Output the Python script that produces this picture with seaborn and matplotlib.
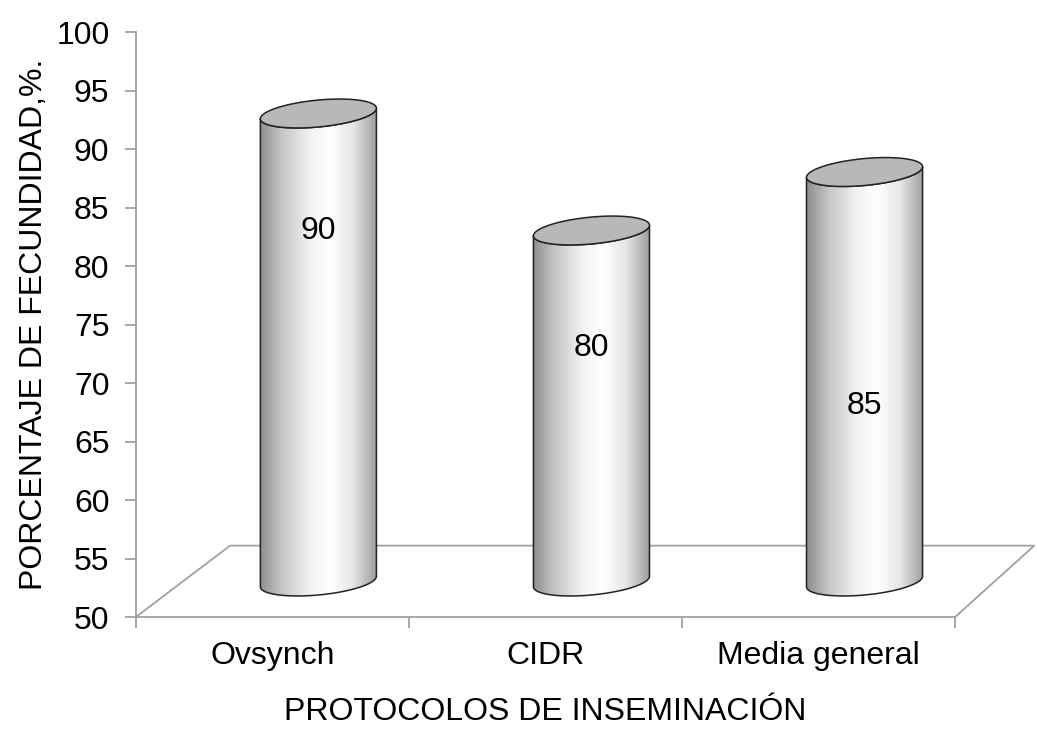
import numpy as np
import matplotlib
matplotlib.use("Agg")
import matplotlib.pyplot as plt
import seaborn as sns
from matplotlib.colors import LinearSegmentedColormap
from matplotlib.patches import Polygon
from matplotlib.transforms import ScaledTranslation

# ─── DATA ────────────────────────────────────────────────────────────────────
protocolos = ["Ovsynch", "CIDR", "Media general"]
fecundidad = [90, 80, 85]
label_drop = [10, 10, 20]          # how far below the top Excel put each label
y_ticks = list(range(50, 101, 5))

sns.set_theme(style="white")
plt.rcParams["font.family"] = ["Liberation Sans", "DejaVu Sans"]

GRID = "#a0a0a0"
FS = 23

fig = plt.figure(figsize=(10.37, 7.29), dpi=100)
ax = fig.add_axes([0.131, 0.1536, 0.790, 0.8025])

sns.barplot(x=protocolos, y=fecundidad, width=0.425, color="white", ax=ax)

ax.set_xlim(-0.5, 2.5)
ax.set_ylim(50, 100)

# 3D look: bars sit half way into the floor
mid = ax.transData + ScaledTranslation(0.46, 0.355, fig.dpi_scale_trans)
cyl_cmap = LinearSegmentedColormap.from_list(
    "cyl", [(0.0, "#8e8e8e"), (0.18, "#c4c4c4"), (0.42, "#f2f2f2"),
            (0.6, "#ffffff"), (0.8, "#e6e6e6"), (1.0, "#9c9c9c")])
grad = np.linspace(0, 1, 256).reshape(1, -1)

EH = 1.15    # ellipse half height (data units)
TILT = 0.45  # right side of ellipse sits higher

# floor (drawn first so cylinders hide it)
dx_l, dx_r, dy = 0.345, 0.29, 6.1
floor_x = [-0.5, -0.5 + dx_l, 2.5 + dx_r, 2.5]
floor_y = [50, 50 + dy, 50 + dy, 50]
ax.plot(floor_x, floor_y, color=GRID, lw=1.3, clip_on=False, zorder=1)

t_low = np.linspace(np.pi, 2 * np.pi, 80)
t_all = np.linspace(0, 2 * np.pi, 160)

for bar, val, drop in zip(ax.patches, fecundidad, label_drop):
    cx = bar.get_x() + bar.get_width() / 2
    hw = bar.get_width() / 2
    bar.set_visible(False)
    base = 50

    # body silhouette
    bx = cx + hw * np.cos(t_low)
    by = base + EH * np.sin(t_low) + TILT * np.cos(t_low)
    tx = (cx + hw * np.cos(t_low))[::-1]
    ty = (val + EH * np.sin(t_low) + TILT * np.cos(t_low))[::-1]
    body = Polygon(np.column_stack([np.r_[bx, tx], np.r_[by, ty]]),
                   closed=True, facecolor="none", edgecolor="#222222",
                   lw=1.1, transform=mid, zorder=4)
    ax.add_patch(body)
    im = ax.imshow(grad, cmap=cyl_cmap, aspect="auto",
                   extent=[cx - hw, cx + hw, base - 3, val + 3],
                   zorder=3, interpolation="bilinear")
    im.set_transform(mid)
    im.set_clip_path(body)

    # top cap
    ex = cx + hw * np.cos(t_all)
    ey = val + EH * np.sin(t_all) + TILT * np.cos(t_all)
    ax.add_patch(Polygon(np.column_stack([ex, ey]), closed=True,
                         facecolor="#b8b8b8", edgecolor="#222222", lw=1.1,
                         transform=mid, zorder=5))

    ax.text(cx, val - drop, f"{val}", ha="center", va="center",
            fontsize=FS, color="black", transform=mid, zorder=6)

ax.set_xlim(-0.5, 2.5)
ax.set_ylim(50, 100)

# axes styling
for side in ["top", "right"]:
    ax.spines[side].set_visible(False)
for side in ["left", "bottom"]:
    ax.spines[side].set_color(GRID)
    ax.spines[side].set_linewidth(1.3)

ax.set_yticks(y_ticks)
ax.set_yticklabels([str(v) for v in y_ticks], fontsize=FS, color="black")
ax.tick_params(axis="y", length=8, width=1.3, color=GRID, pad=11,
               left=True, direction="out")
ax.set_xticks(range(len(protocolos)))
ax.set_xticklabels(protocolos, fontsize=FS, color="black")
ax.tick_params(axis="x", which="major", length=0, pad=17)
ax.set_xticks([-0.5, 0.5, 1.5, 2.5], minor=True)
ax.tick_params(axis="x", which="minor", length=8, width=1.3, color=GRID,
               bottom=True, direction="out")

ax.set_xlabel("PROTOCOLOS DE INSEMINACIÓN", fontsize=FS, labelpad=19,
              color="black")
ax.set_ylabel("PORCENTAJE DE FECUNDIDAD,%.", fontsize=FS, labelpad=5,
              color="black")
ax.grid(False)

fig.savefig("out.png", dpi=100, facecolor="white")
